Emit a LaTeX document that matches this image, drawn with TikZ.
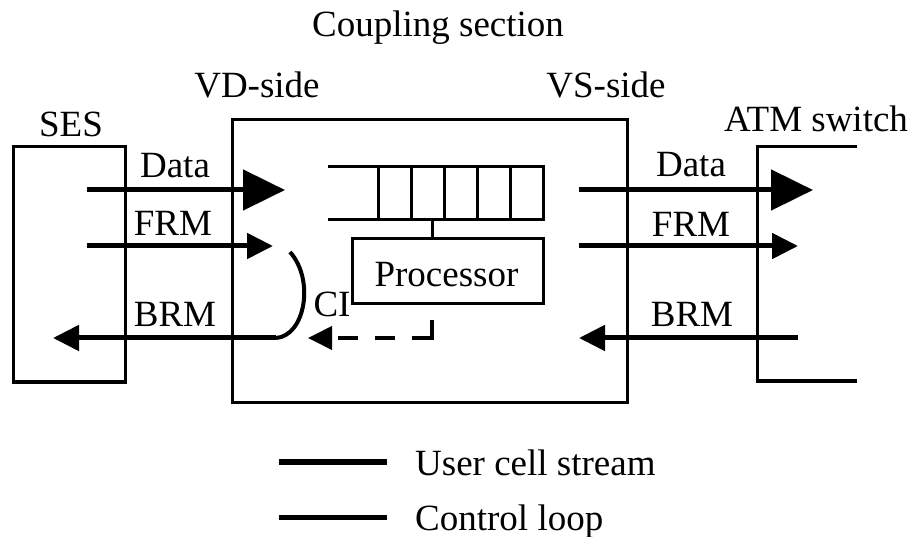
\documentclass[tikz,border=0pt]{standalone}
\usepackage{fontspec}
\setmainfont{Liberation Serif}
\usetikzlibrary{arrows.meta}
\begin{document}
\begin{tikzpicture}[x=1pt,y=-1pt,
  box/.style={draw,line width=3pt,inner sep=0pt},
  lbl/.style={anchor=base,inner sep=0pt,font=\fontsize{37}{40}\selectfont},
  flow/.style={line width=5pt},
  bighead/.style={-{Triangle[length=42pt,width=40pt]}},
  smallhead/.style={-{Triangle[length=26pt,width=25pt]}},
  thin/.style={line width=3pt}]
\useasboundingbox (0,0) rectangle (916,537);
% boxes
\node[box,minimum width=112pt,minimum height=235pt] (ses) at (69,264.5) {};
\node[box,minimum width=395pt,minimum height=282pt] (cs) at (429.5,261) {};
\node[box,minimum width=191pt,minimum height=65pt] (proc) at (447.5,271.5) {};
\node[lbl] at (446.5,287) {Processor};
% ATM switch bracket
\coordinate (atm1) at (857,147);
\coordinate (atm2) at (757,147);
\coordinate (atm3) at (757,381);
\coordinate (atm4) at (857,381);
\draw[thin] (atm1) -- (atm2) -- (atm3) -- (atm4);
% queue
\coordinate (qtl) at (328,167);
\coordinate (qtr) at (543,167);
\coordinate (qbl) at (328,220);
\coordinate (qbr) at (543,220);
\draw[thin] (qtl) -- (qtr) -- (qbr) -- (qbl);
\foreach \x in {378,411,444,477,510}{\draw[thin] (\x,167) -- (\x,220);}
\coordinate (qlink) at (432,220);
\draw[thin] (qlink) -- (proc.north -| qlink);
% titles
\node[lbl] (tcs) at (438,37) {Coupling section};
\node[lbl] (tvd) at (257,98) {VD-side};
\node[lbl] (tvs) at (606,98) {VS-side};
\node[lbl] (tses) at (71,137) {SES};
\node[lbl] (tatm) at (816,132) {ATM switch};
% left arrows
\coordinate (ld0) at (87,190);  \coordinate (ld1) at (285,190);
\coordinate (lf0) at (87,246);  \coordinate (lf1) at (273,246);
\coordinate (lb0) at (276,338); \coordinate (lb1) at (53,338);
\draw[flow,bighead] (ld0) -- (ld1);
\draw[flow,smallhead] (lf0) -- (lf1);
\draw[flow,smallhead] (lb0) -- (lb1);
\node[lbl] at (175,178) {Data};
\node[lbl] at (173,236) {FRM};
\node[lbl] at (175,327) {BRM};
% right arrows
\coordinate (rd0) at (579,190); \coordinate (rd1) at (813,190);
\coordinate (rf0) at (579,246); \coordinate (rf1) at (798,246);
\coordinate (rb0) at (798,338); \coordinate (rb1) at (579,338);
\draw[flow,bighead] (rd0) -- (rd1);
\draw[flow,smallhead] (rf0) -- (rf1);
\draw[flow,smallhead] (rb0) -- (rb1);
\node[lbl] at (691,177) {Data};
\node[lbl] at (691,237) {FRM};
\node[lbl] at (692,327) {BRM};
% CI loop
\coordinate (ci0) at (290,252);
\draw[line width=4pt] (lb0) .. controls (305,336) and (315,280) .. (ci0);
\node[lbl] (ci) at (332,317) {CI};
\coordinate (d0) at (432,320);
\coordinate (d1) at (432,338);
\coordinate (dm) at (412,338);
\coordinate (d2) at (308,338);
\draw[line width=4pt] (d0) -- (d1) -- (dm);
\draw[line width=4pt,dash pattern=on 20pt off 17pt,dash phase=20pt,-{Triangle[length=24pt,width=23pt]}] (dm) -- (d2);
% legend
\coordinate (l1a) at (279,462); \coordinate (l1b) at (387,462);
\coordinate (l2a) at (279,517); \coordinate (l2b) at (387,517);
\draw[line width=6.5pt] (l1a) -- (l1b);
\draw[line width=5pt] (l2a) -- (l2b);
\node[lbl,anchor=base west] at (415,475) {User cell stream};
\node[lbl,anchor=base west] at (415,530) {Control loop};
\end{tikzpicture}
\end{document}
